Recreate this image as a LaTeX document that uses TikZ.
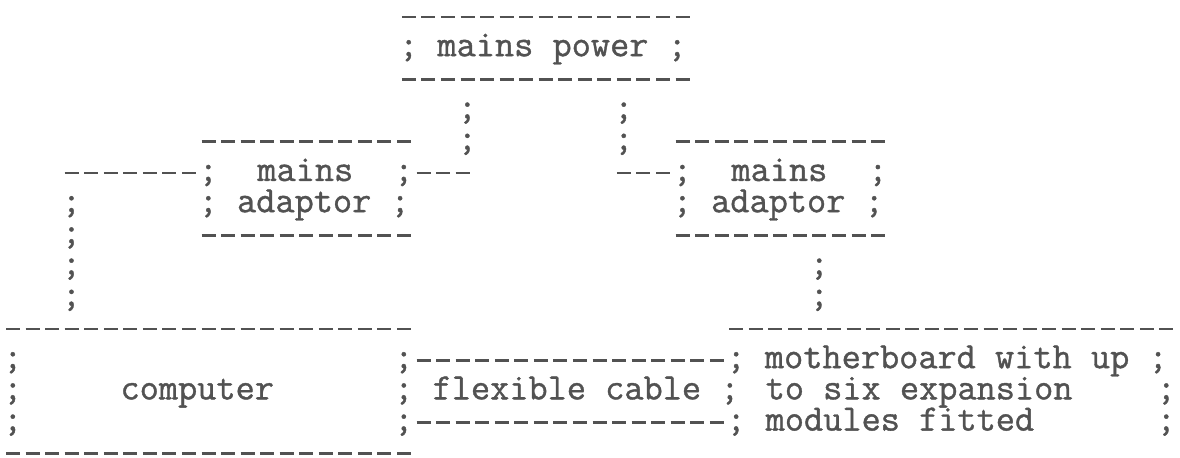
\documentclass[tikz,border=0pt]{standalone}
\usepackage{fontspec}
\newfontfamily\twf{lmmono12-regular.otf}[FakeBold=1.0]
\definecolor{ink}{RGB}{82,82,82}
\tikzset{
  tw/.style={anchor=base west, inner sep=0pt, outer sep=0pt, text=ink,
    font=\twf\fontsize{18.62}{20}\selectfont},
  rulerow/.style={draw=ink, line width=1.4pt, dash pattern=on 7pt off 2.775pt}
}
% column c -> x = 13 + 19.55 c (px) ; row k -> centre y = 17 + 31.2 (k-1)
\newcommand\wtok[4]{\node[tw] (#1) at ({13+19.55*(#2)-9.775},{25+31.2*((#3)-1)}) {#4};}
\newcommand\wdash[4]{\draw[rulerow] ({13+19.55*(#2)-7},{17+31.2*((#4)-1)}) coordinate (#1a) -- ({13+19.55*(#3)+7},{17+31.2*((#4)-1)}) coordinate (#1b);}
\begin{document}
\begin{tikzpicture}[x=0.5pt,y=-0.5pt]
\fill[white] (0,0) rectangle (1180,458);
\useasboundingbox (0,0) rectangle (1180,458);
\clip (0,0) rectangle (1180,458);
% mains power
\wdash{m1}{20.25}{34.25}{1}
\wtok{mp}{20.25}{2}{; mains power ;}
\wdash{m3}{20.25}{34.25}{3}
\wtok{s4a}{23.25}{4}{;}
\wtok{s4b}{31.25}{4}{;}
% row 5
\wdash{la5}{10}{20}{5}
\wtok{s5a}{23.25}{5}{;}
\wtok{s5b}{31.25}{5}{;}
\wdash{ra5}{34.25}{44.25}{5}
% row 6
\wdash{l6}{3}{9}{6}
\wtok{l6s}{10}{6}{;}
\wtok{lm}{13}{6}{mains}
\wtok{l6e}{20}{6}{;}
\wdash{l6d}{21}{23}{6}
\wdash{r6d}{31.25}{33.25}{6}
\wtok{r6s}{34.25}{6}{;}
\wtok{rm}{37.25}{6}{mains}
\wtok{r6e}{44.25}{6}{;}
% row 7
\wtok{v7}{3}{7}{;}
\wtok{la}{10}{7}{; adaptor ;}
\wtok{ra}{34.25}{7}{; adaptor ;}
% row 8
\wtok{v8}{3}{8}{;}
\wdash{la8}{10}{20}{8}
\wdash{ra8}{34.25}{44.25}{8}
% rows 9-10
\wtok{v9}{3}{9}{;}
\wtok{r9}{41.25}{9}{;}
\wtok{v10}{3}{10}{;}
\wtok{r10}{41.25}{10}{;}
% row 11
\wdash{c11}{0}{20}{11}
\wdash{mb11}{37}{59}{11}
% row 12
\wtok{c12a}{0}{12}{;}
\wtok{c12b}{20}{12}{;}
\wdash{f12}{21}{36}{12}
\wtok{mb12}{37}{12}{; motherboard with up ;}
% row 13
\wtok{c13a}{0}{13}{;}
\wtok{comp}{6}{13}{computer}
\wtok{flex}{20}{13}{; flexible cable ;}
\wtok{mb13}{39}{13}{to six expansion}
\wtok{mb13e}{59}{13}{;}
% row 14
\wtok{c14a}{0}{14}{;}
\wtok{c14b}{20}{14}{;}
\wdash{f14}{21}{36}{14}
\wtok{mb14s}{37}{14}{;}
\wtok{mb14}{39}{14}{modules fitted}
\wtok{mb14e}{59}{14}{;}
% row 15
\wdash{c15}{0}{20}{15}
\end{tikzpicture}
\end{document}
